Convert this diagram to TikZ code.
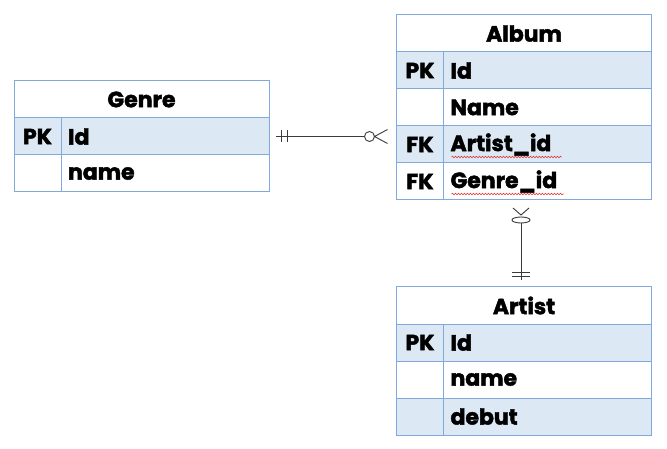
\documentclass[tikz,border=0pt]{standalone}
\usepackage{fontspec}
\setmainfont{Poppins}[BoldFeatures={FakeBold=2}]
\usetikzlibrary{positioning, decorations.pathmorphing}
\definecolor{tableBorder}{HTML}{7FAADB}
\definecolor{tableFill}{HTML}{DDE8F5}
\definecolor{linkGray}{HTML}{3A3A3A}
\definecolor{squiggleRed}{HTML}{E03A3A}

\begin{document}
\begin{tikzpicture}[
    x=1pt, y=-1pt,
    every node/.style={draw=tableBorder, line width=1pt, inner sep=0pt, outer sep=0pt, text=black, font=\bfseries\fontsize{22}{24}\selectfont},
    head/.style={minimum width=255pt, minimum height=37pt},
    keycell/.style={minimum width=47pt, minimum height=37pt},
    fieldcell/.style={minimum height=37pt, inner xsep=7pt, text width=194pt, align=left},
    shaded/.style={fill=tableFill},
    link/.style={draw=linkGray, line width=0.9pt},
    squiggle/.style={draw=squiggleRed, line width=0.6pt, decorate, decoration={snake, amplitude=0.8pt, segment length=3pt}}
]
    \useasboundingbox (0,0) rectangle (667,449);

    % Genre table
    \node[head] (genreHead) at (141.5,99.5) {Genre};
    \node[keycell, shaded, anchor=north west] (genreK1) at (genreHead.south west) {PK};
    \node[fieldcell, shaded, anchor=north west] (genreF1) at (genreK1.north east) {Id};
    \node[keycell, below=0pt of genreK1] (genreK2) {};
    \node[fieldcell, below=0pt of genreF1] (genreF2) {name};

    % Album table
    \node[head] (albumHead) at (524,33.5) {Album};
    \node[keycell, shaded, anchor=north west] (albumK1) at (albumHead.south west) {PK};
    \node[fieldcell, shaded, anchor=north west] (albumF1) at (albumK1.north east) {Id};
    \node[keycell, below=0pt of albumK1] (albumK2) {};
    \node[fieldcell, below=0pt of albumF1] (albumF2) {Name};
    \node[keycell, shaded, below=0pt of albumK2] (albumK3) {FK};
    \node[fieldcell, shaded, below=0pt of albumF2] (albumF3) {Artist\_id};
    \node[keycell, below=0pt of albumK3] (albumK4) {FK};
    \node[fieldcell, below=0pt of albumF3] (albumF4) {Genre\_id};

    % Artist table
    \node[head] (artistHead) at (524,305.5) {Artist};
    \node[keycell, shaded, anchor=north west] (artistK1) at (artistHead.south west) {PK};
    \node[fieldcell, shaded, anchor=north west] (artistF1) at (artistK1.north east) {Id};
    \node[keycell, below=0pt of artistK1] (artistK2) {};
    \node[fieldcell, below=0pt of artistF1] (artistF2) {name};
    \node[keycell, shaded, below=0pt of artistK2] (artistK3) {};
    \node[fieldcell, shaded, below=0pt of artistF2] (artistF3) {debut};

    % spell-check marks
    \draw[squiggle] ([xshift=8pt, yshift=6pt]albumF3.south west) -- ++(110,0);
    \draw[squiggle] ([xshift=8pt, yshift=6pt]albumF4.south west) -- ++(112,0);

    % Genre -- Album (one to zero-or-many)
    \coordinate (genreEnd) at ([xshift=7pt]genreF1.east);
    \coordinate (albumEnd) at ([xshift=-9pt]albumK3.west |- genreF1.east);
    \draw[link] (genreEnd) -- ([xshift=-23pt]albumEnd);
    \draw[link] ([xshift=5pt]genreEnd) ++(0,-6) -- ++(0,12);
    \draw[link] ([xshift=11pt]genreEnd) ++(0,-6) -- ++(0,12);
    \draw[link] ([xshift=-18pt]albumEnd) circle[radius=5pt];
    \draw[link] (albumEnd) ++(0,-7) -- ([xshift=-13pt]albumEnd) -- ++(13,7);

    % Artist -- Album (one to zero-or-many)
    \coordinate (albumFoot) at ([xshift=-3pt, yshift=-8pt]albumF4.south west -| albumHead.south);
    \coordinate (artistFoot) at ([xshift=-3pt, yshift=7pt]artistHead.north);
    \draw[link] ([yshift=-15pt]albumFoot) -- (artistFoot);
    \draw[link] ([yshift=-12pt]albumFoot) ellipse[x radius=9pt, y radius=3pt];
    \draw[link] (albumFoot) ++(-8,0) -- ([yshift=-7pt]albumFoot) -- ++(8,-7);
    \draw[link] ([yshift=8pt]artistFoot) ++(-9,0) -- ++(18,0);
    \draw[link] ([yshift=4pt]artistFoot) ++(-9,0) -- ++(18,0);
\end{tikzpicture}
\end{document}
